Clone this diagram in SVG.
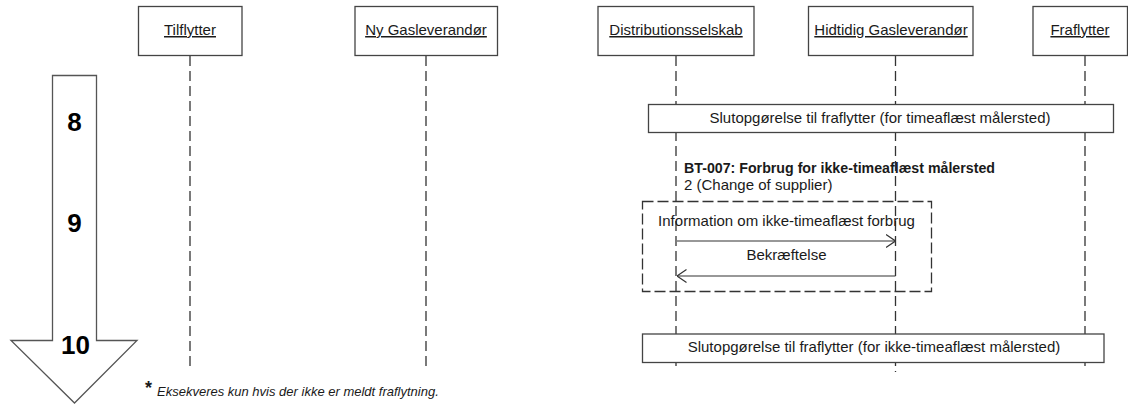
<svg xmlns="http://www.w3.org/2000/svg" width="1128" height="404" viewBox="0 0 1128 404">
<style>
  text { font-family: "Liberation Sans", Arial, sans-serif; fill: #1a1a1a; }
  .actor rect { fill: #fff; stroke: #444; stroke-width: 1.3; }
  .actor text { font-size: 15px; text-anchor: middle; text-decoration: underline; }
  .life { stroke: #333; stroke-width: 1.3; stroke-dasharray: 10 5; fill: none; }
  .act rect { fill: #fff; stroke: #444; stroke-width: 1.3; }
  .act text { font-size: 15px; text-anchor: middle; }
  .msg { stroke: #333; stroke-width: 1.2; fill: none; }
  .lbl { font-size: 15px; text-anchor: middle; }
  .step { font-size: 26px; font-weight: bold; text-anchor: middle; fill: #000; }
</style>
<defs>
  <marker id="open" viewBox="0 0 10 14" refX="9.5" refY="7" markerWidth="10" markerHeight="14" markerUnits="userSpaceOnUse" orient="auto">
    <path d="M0,0.5 L9.5,7 L0,13.5" fill="none" stroke="#333" stroke-width="1.2"/>
  </marker>
</defs>

<g id="timeline">
  <path d="M52.5,75.5 L96.5,75.5 L96.5,340.5 L137,340.5 L74.5,403 L11,340.5 L52.5,340.5 Z" fill="#fff" stroke="#555" stroke-width="1.3"/>
  <text class="step" x="74.5" y="131">8</text>
  <text class="step" x="74.5" y="232">9</text>
  <text class="step" x="75.5" y="354">10</text>
</g>

<g id="fragment-label">
  <text x="684" y="172.5" font-size="15" font-weight="bold" textLength="311" lengthAdjust="spacingAndGlyphs">BT-007: Forbrug for ikke-timeaflæst målersted</text>
  <text x="684" y="190" font-size="15">2 (Change of supplier)</text>
</g>

<g id="connectors">
  <line class="life" x1="190" y1="56" x2="190" y2="367"/>
  <line class="life" x1="426" y1="56" x2="426" y2="367"/>
  <line class="life" x1="676" y1="56" x2="676" y2="367"/>
  <line class="life" x1="895.5" y1="56" x2="895.5" y2="372"/>
  <line class="life" x1="1085" y1="56" x2="1085" y2="367"/>
  <line id="msg-info" class="msg" x1="677" y1="241" x2="895.5" y2="241" marker-end="url(#open)"/>
  <line id="msg-bekr" class="msg" x1="895.5" y1="276" x2="677" y2="276" marker-end="url(#open)"/>
</g>

<g id="fragment">
  <rect x="642.5" y="201.5" width="289" height="90" fill="none" stroke="#333" stroke-width="1.3" stroke-dasharray="11 4"/>
  <text class="lbl" x="786.5" y="226">Information om ikke-timeaflæst forbrug</text>
  <text class="lbl" x="786.5" y="260">Bekræftelse</text>
</g>

<g id="actor-tilflytter" class="actor">
  <rect x="138.5" y="6.5" width="103.5" height="49"/>
  <text x="190" y="35">Tilflytter</text>
</g>
<g id="actor-ny-gasleverandor" class="actor">
  <rect x="355" y="6.5" width="142.5" height="49"/>
  <text x="426" y="35">Ny Gasleverandør</text>
</g>
<g id="actor-distributionsselskab" class="actor">
  <rect x="598" y="6.5" width="156" height="49"/>
  <text x="676" y="35">Distributionsselskab</text>
</g>
<g id="actor-hidtidig-gasleverandor" class="actor">
  <rect x="808.5" y="6.5" width="164.5" height="49"/>
  <text x="891" y="35">Hidtidig Gasleverandør</text>
</g>
<g id="actor-fraflytter" class="actor">
  <rect x="1033" y="6.5" width="94.5" height="49"/>
  <text x="1080" y="35">Fraflytter</text>
</g>

<g id="act-timeaflaest" class="act">
  <rect x="648.5" y="104.5" width="465" height="28"/>
  <text x="880" y="123">Slutopgørelse til fraflytter (for timeaflæst målersted)</text>
</g>
<g id="act-ikke-timeaflaest" class="act">
  <rect x="642.5" y="334" width="461.5" height="28.5"/>
  <text x="874" y="352">Slutopgørelse til fraflytter (for ikke-timeaflæst målersted)</text>
</g>

<g id="footnote">
  <text x="145" y="394" font-size="18" font-weight="bold">*</text>
  <text x="157" y="396" font-size="13" font-style="italic">Eksekveres kun hvis der ikke er meldt fraflytning.</text>
</g>
</svg>
